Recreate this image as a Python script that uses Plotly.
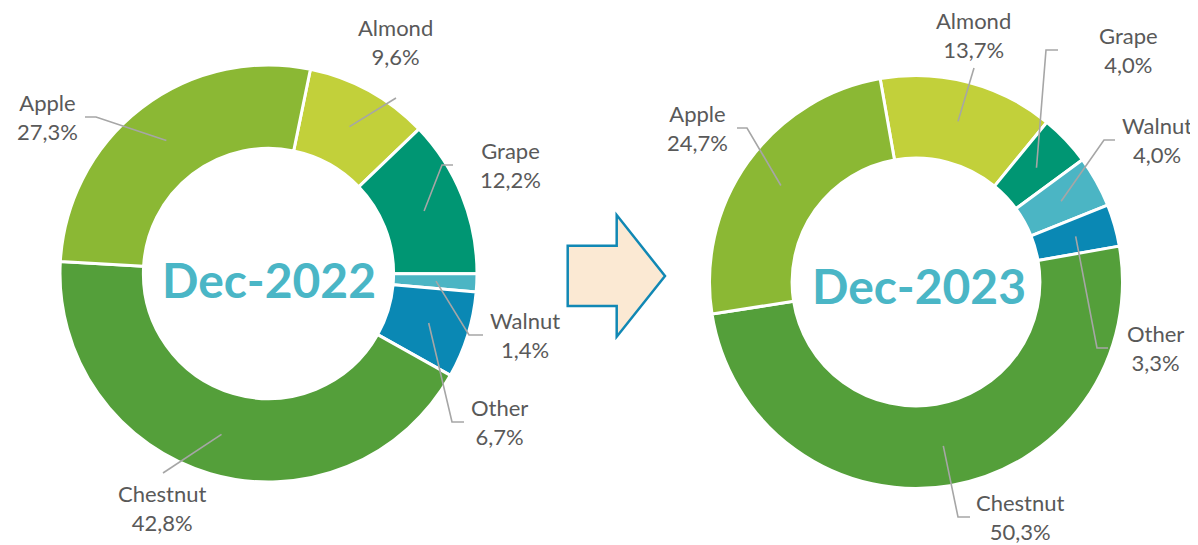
import math
import plotly.graph_objects as go

# ---------------- data ----------------
categories = ["Almond", "Grape", "Walnut", "Other", "Chestnut", "Apple"]
share_2022 = [9.6, 12.2, 1.4, 6.7, 42.8, 27.3]
share_2023 = [13.7, 4.0, 4.0, 3.3, 50.3, 24.7]
period_titles = ["Dec-2022", "Dec-2023"]

# ---------------- styles ----------------
slice_colors = ["#C2D03A", "#009673", "#4BB5C4", "#0A88B4", "#549F3A", "#8BB834"]
label_color = "#595959"
leader_color = "#A6A6A6"
title_color = "#4AB6C6"
FONT = "Lato, 'Open Sans', sans-serif"

# page is 1198x545, the html body has an 8px margin -> figure is offset by 8px
PAGE_W, PAGE_H = 1198, 545
OFF = 8
W, H = PAGE_W - OFF, PAGE_H - OFF

# ---------------- layout geometry (page pixels) ----------------
pies = [
    dict(values=share_2022, title=period_titles[0], cx=268.5, cy=273.5, R=208.5, rot=11.6,
         title_xy=(269, 279.5),
         labels={
             "Almond": dict(pos=(395, 42), leader=[(396, 98)]),
             "Grape": dict(pos=(510, 165), leader=[(442, 165), (453, 165)]),
             "Walnut": dict(pos=(525, 335), leader=[(469, 335), (483, 335)]),
             "Other": dict(pos=(500, 422), leader=[(452, 422), (464, 422)]),
             "Chestnut": dict(pos=(162, 508), leader=[(163, 473)]),
             "Apple": dict(pos=(47, 117), leader=[(96, 117), (85, 117)]),
         }),
    dict(values=share_2023, title=period_titles[1], cx=916, cy=282, R=206.5, rot=-10,
         title_xy=(919, 285),
         labels={
             "Almond": dict(pos=(973, 35), leader=[(974, 68)]),
             "Grape": dict(pos=(1128, 50), leader=[(1046, 50), (1058, 50)]),
             "Walnut": dict(pos=(1157, 140), leader=[(1104, 140), (1115, 140)]),
             "Other": dict(pos=(1155, 348), leader=[(1097, 348), (1108, 348)]),
             "Chestnut": dict(pos=(1020, 517), leader=[(958, 517), (970, 517)]),
             "Apple": dict(pos=(697, 128), leader=[(747, 128), (737, 128)]),
         }),
]


def px(x):
    return (x - OFF) / W


def py(y):
    return 1 - (y - OFF) / H


fig = go.Figure()
shapes = []
annotations = []

for p in pies:
    cx, cy, R = p["cx"], p["cy"], p["R"]
    fig.add_trace(go.Pie(
        labels=categories,
        values=p["values"],
        sort=False,
        direction="clockwise",
        rotation=p["rot"],
        hole=0.6,
        textinfo="none",
        marker=dict(colors=slice_colors, line=dict(color="white", width=3)),
        domain=dict(x=[px(cx - R), px(cx + R)], y=[py(cy + R), py(cy - R)]),
        showlegend=False,
        hovertemplate="%{label}: %{value}%<extra></extra>",
    ))

    total = sum(p["values"])
    cum = 0.0
    for cat, v in zip(categories, p["values"]):
        mid = p["rot"] + (cum + v / 2) / total * 360
        cum += v
        a = math.radians(mid)
        r0 = 0.81 * (R - 1.5)
        sx = cx + r0 * math.sin(a)
        sy = cy - r0 * math.cos(a)
        info = p["labels"][cat]
        pts = [(sx, sy)] + info["leader"]
        path = "M " + " L ".join(f"{px(x):.5f},{py(y):.5f}" for x, y in pts)
        shapes.append(dict(type="path", path=path, xref="paper", yref="paper",
                           line=dict(color=leader_color, width=1.6), layer="above"))
        txt = f"{cat}<br>{v:.1f}%".replace(".", ",")
        lx, ly = info["pos"]
        annotations.append(dict(x=px(lx), y=py(ly), xref="paper", yref="paper",
                                text=txt, showarrow=False, xanchor="center", yanchor="middle",
                                align="center", font=dict(family=FONT, size=22, color=label_color)))

    tx, ty = p["title_xy"]
    annotations.append(dict(x=px(tx), y=py(ty), xref="paper", yref="paper", text=p["title"],
                            showarrow=False, xanchor="center", yanchor="middle",
                            font=dict(family=FONT, size=48, color=title_color, weight=700)))

# block arrow between the two donuts
arrow_pts = [(567.7, 245.7), (616.7, 245.7), (616.7, 215), (665, 276), (616.7, 336.7),
             (616.7, 306), (567.7, 306)]
arrow_path = "M " + " L ".join(f"{px(x):.5f},{py(y):.5f}" for x, y in arrow_pts) + " Z"
shapes.append(dict(type="path", path=arrow_path, xref="paper", yref="paper",
                   fillcolor="#FBE9D3", line=dict(color="#1188B4", width=2.5), layer="above"))

fig.update_layout(
    width=W, height=H,
    margin=dict(l=0, r=0, t=0, b=0),
    paper_bgcolor="white", plot_bgcolor="white",
    shapes=shapes, annotations=annotations,
    showlegend=False,
)

fig.write_html("out.html")
